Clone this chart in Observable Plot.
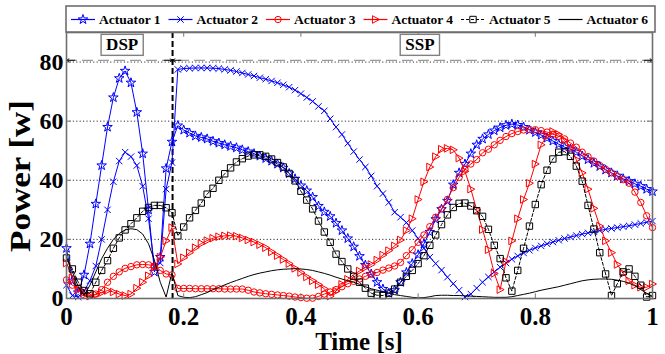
<!DOCTYPE html>
<html><head><meta charset="utf-8">
<script src="https://cdn.jsdelivr.net/npm/d3@7"></script>
<script src="https://cdn.jsdelivr.net/npm/@observablehq/plot@0.6"></script>
<style>
body{margin:0;background:#fff;}
#chart{width:665px;height:354px;}
svg text{font-family:"Liberation Serif","Times New Roman",serif;font-weight:bold;}
</style>
</head><body><div id="chart"></div>
<script>
// ---- data ----
const time = d3.range(101).map(i => +(i / 100).toFixed(2));
const seriesNames = ["Actuator 1","Actuator 2","Actuator 3","Actuator 4","Actuator 5","Actuator 6"];
const act1 = [17,6,2,8,18.5,32,45,58,68,74.5,
 77,73,63,49,30,9,14,44,53,58.5,
 57,56,55,54.5,54,53.2,52.6,52,51.5,51,
 50.3,49.7,49,48.2,47.4,46.5,45.5,44.2,42.3,40.5,
 38.2,36.5,34.3,31.3,29.3,27.8,25.5,23,20.3,17.5,
 14.3,11.3,8.3,5.5,3.2,1.8,2.8,5.5,8.8,11.8,
 14.8,18.5,22.5,26.8,30.2,33,38.5,42.5,45.5,49,
 52,54,55.5,56.8,57.8,58.6,59,58.7,58,57,
 56.2,55.3,54.3,53.3,52.2,51.2,50.5,49.5,48.2,47,
 45.8,44.7,43.5,42.5,41.5,40.5,39.7,38.8,38,37,
 36.2];
const act2 = [4.5,1,0.5,2.5,6,11,20,30,39.5,46.5,
 49.5,48,45,38,27,11,12,37,46,77.5,
 77.8,77.9,78,78,78,77.9,77.8,77.5,77.2,76.8,
 76.3,75.8,75.3,74.7,74.2,73.6,73,72.3,71.5,70.5,
 69.3,68,66.7,65,63.5,60.8,58,55.5,52.5,49.7,
 47,44.5,41.5,38,35.5,32.5,29.2,27.5,25.7,23,
 20.3,17,14,11.8,9.6,7.2,5,2.8,0.5,1.5,
 3.5,5.5,7.3,9,10.6,12,13.3,14.4,15.4,16.3,
 17.1,17.8,18.5,19.1,19.7,20.3,20.8,21.3,21.8,22.2,
 22.6,23,23.4,23.7,24,24.3,24.6,25,25.4,25.8,
 26.2];
const act3 = [6.3,4.5,3.5,2,1,1.5,3,5.5,7.5,9,
 10.2,10.8,11.4,11.5,11.4,11,9.5,8.3,8,3.4,
 3.4,3.4,3.3,3.3,3.3,3.3,3.3,3.2,3.2,3.2,
 3.2,2.8,2.2,1.9,1.6,1.4,1.2,1,0.8,0.5,
 0.3,0.1,0.1,0.7,1.5,2.2,3,4,5,5.8,
 6.6,7.5,8.2,8.8,9.6,10.3,11,12.2,14.5,16.5,
 19,21.5,24.3,27.5,30.3,33.5,37.5,41,43.8,45.5,
 47,49.3,50.5,52,53.5,54.8,55.8,56.5,57,57.2,
 57.1,56.8,56.3,55.6,54.9,54,52.6,51.2,49.5,48,
 46.5,45,43.7,42.5,41.3,40.2,39,36,32.5,28,
 24];
const act4 = [12,7,3,1.2,0.8,1.3,2,2.7,2.2,1.5,
 1,1.5,3.5,5.5,7.7,10.5,14,19.5,24,11.7,
 13.8,15.5,17.2,18.6,19.6,20.4,20.9,21.2,21.3,21.1,
 20.5,19.8,19.1,18.2,17.2,15.8,14.5,13.2,11.8,10.2,
 8.8,7.3,6,4.7,3.3,0.8,2.5,4.8,6.5,8,
 9.3,10.5,11.5,13,14.7,16.2,17.8,19.8,23,27,
 33.5,39.5,44.5,48,50.5,50.8,50.3,47.5,43,37,
 30,23.3,16.5,8.5,3,12.5,19.5,27,33.5,39,
 45.5,52,55,56.5,55.5,53.5,51,47,42.5,37,
 30.5,24.5,19.5,15.5,11.5,8.5,6,4.5,3.8,3.8,
 4.9];
const act5 = [13.7,10,5.5,2.7,1.6,5.5,9.5,12.8,17,20.5,
 23.2,25.3,27.3,29.5,30.8,31.5,31.5,30.7,29,21.2,
 24.2,27.3,29.8,32.3,35.3,37.3,40,42.2,44.2,46.2,
 47.3,48.2,48.6,48.6,48.1,47.2,46,44.5,42.3,39.8,
 36.3,33.3,30.3,26.2,22.5,19,15,12.5,10,7.5,
 5.5,3.5,1.8,1.1,1,1.8,3.2,5.5,7.5,9.5,
 11.8,14.5,18,21.5,25,28.3,30.8,32.2,32.3,31.3,
 29.7,27.8,23.4,18,13.5,7,2.5,9.5,17,24.5,
 31.8,38.5,43.4,47.2,49.5,49.7,48.1,44.8,39.7,31.5,
 23.5,15.5,8.3,1,5,9,10,7.5,4.5,0.5,
 1];
const act6 = [14,9,4,1,4.5,9,13.5,17,20,22,
 23.2,23.6,23.3,21.8,18.5,13,5.5,0.5,8.8,1,
 0.4,0.3,0.6,1.3,2,3,3.8,4.6,5.4,6.1,
 6.8,7.5,8.1,8.6,9,9.4,9.7,9.9,10,10.1,
 10,9.8,9.5,9,8.5,7.9,7.2,6.6,6,5.5,
 4.8,4,3.3,2.8,2.3,1.8,1.3,1,0.7,0.4,
 0.2,0.3,0.6,1,1.1,1.1,1,1,0.9,0.8,
 0.7,0.6,0.5,0.4,0.4,0.4,0.6,1,1.4,1.8,
 2.3,2.8,3.2,3.6,4,4.5,5,5.5,6,6.3,
 6.5,6.6,6.6,6.5,6.2,5.8,5.2,4.3,3,1.8,
 0.5];
const xTicks = [0, 0.2, 0.4, 0.6, 0.8, 1];
const yTicks = [0, 20, 40, 60, 80];
const yGrid = [20, 40, 60, 80];
const phaseNames = ["DSP", "SSP"];
const phaseLabelX = [0.095, 0.603];
const phaseLabelY = 85.8;
const phaseBoundary = 0.181;
const phaseArrowY = 80.6;
const xLabel = "Time [s]";
const yLabel = "Power [w]";

// ---- styling ----
const seriesValues = [act1, act2, act3, act4, act5, act6];
const colors = ["#0000ff", "#0000ff", "#ff0000", "#ff0000", "#000000", "#000000"];
const triangleRight = {
  draw(ctx, size) {
    const r = Math.sqrt(size / Math.PI);
    ctx.moveTo(r * 1.1, 0);
    ctx.lineTo(-r * 0.85, -r * 1.05);
    ctx.lineTo(-r * 0.85, r * 1.05);
    ctx.closePath();
  }
};
const symbols = [d3.symbolStar, d3.symbolTimes, d3.symbolCircle, triangleRight, d3.symbolSquare, null];
const radii = [3.0, 3.0, 3.2, 3.6, 3.6, 0];
const dashes = [null, null, null, null, "3,2", null];

const rows = seriesValues.map(vals => vals.map((v, i) => ({t: time[i], v})));

const marks = [
  Plot.ruleY(yGrid, {stroke: "#000", strokeWidth: 0.8, strokeDasharray: "1.2,2.2"}),
  Plot.ruleY([phaseArrowY], {x1: 0, x2: 1, stroke: "#9a9a9a", strokeWidth: 1.3, strokeDasharray: "11,5"}),
  Plot.arrow([[0.014, 0], [phaseBoundary - 0.014, phaseBoundary], [phaseBoundary + 0.014, phaseBoundary], [0.986, 1]],
    {x1: d => d[0], x2: d => d[1], y1: () => phaseArrowY, y2: () => phaseArrowY, stroke: "#111", strokeWidth: 1, headLength: 7}),
  Plot.ruleX([phaseBoundary], {stroke: "#000", strokeWidth: 2, strokeDasharray: "6,3"})
];
rows.forEach((r, k) => {
  marks.push(Plot.line(r, {x: "t", y: "v", stroke: colors[k], strokeWidth: 1, strokeDasharray: dashes[k]}));
  if (symbols[k]) marks.push(Plot.dot(r, {x: "t", y: "v", symbol: symbols[k], r: radii[k], stroke: colors[k], fill: "none", strokeWidth: 1}));
});
marks.push(
  Plot.ruleX(xTicks, {y1: 0, y2: 1.6, stroke: "#777"}),
  Plot.ruleX(xTicks, {y1: 88.4, y2: 90, stroke: "#777"}),
  Plot.ruleY(yTicks, {x1: 0, x2: 0.008, stroke: "#777"}),
  Plot.ruleY(yTicks, {x1: 0.992, x2: 1, stroke: "#777"}),
  Plot.frame({stroke: "#6e6e6e", strokeWidth: 1.6}),
  Plot.text(phaseNames, {x: (d, i) => phaseLabelX[i], y: () => phaseLabelY, text: d => d, fontSize: 17, fill: "#000"}),
  Plot.axisX(xTicks, {tickSize: 0, tickPadding: 9, tickFormat: d => String(d), fontSize: 25, label: null}),
  Plot.axisY(yTicks, {tickSize: 0, tickPadding: 3, fontSize: 24, label: null})
);

const plot = Plot.plot({
  width: 665, height: 354,
  marginLeft: 66, marginRight: 13, marginTop: 32, marginBottom: 56,
  x: {domain: [0, 1]},
  y: {domain: [0, 90]},
  style: {background: "#fff", color: "#000", fontFamily: "Liberation Serif", fontWeight: "bold"},
  marks
});
document.getElementById("chart").appendChild(plot);

const svg = d3.select(plot);

// boxes behind the phase labels
svg.selectAll("text").filter(function () { return phaseNames.includes(this.textContent); }).each(function () {
  const b = this.getBBox();
  const m = this.getCTM();
  const x = m.a * b.x + m.c * b.y + m.e, y = m.b * b.x + m.d * b.y + m.f;
  let top = this;
  while (top.parentNode !== plot) top = top.parentNode;
  const rect = document.createElementNS("http://www.w3.org/2000/svg", "rect");
  d3.select(rect).attr("x", x - 5).attr("y", y - 1).attr("width", b.width + 10).attr("height", b.height + 2)
    .attr("fill", "#fff").attr("stroke", "#808080").attr("stroke-width", 1.4);
  plot.insertBefore(rect, top);
});

// axis titles
svg.append("text").attr("transform", "translate(19,176) rotate(-90)")
  .attr("text-anchor", "middle").attr("dy", "0.35em").attr("font-size", 30)
  .attr("textLength", 152).attr("lengthAdjust", "spacingAndGlyphs").attr("fill", "#000").text(yLabel);
svg.append("text").attr("x", 359).attr("y", 341)
  .attr("text-anchor", "middle").attr("dy", "0.35em").attr("font-size", 25).attr("fill", "#000").text(xLabel);

// legend
const lg = svg.append("g");
lg.append("rect").attr("x", 66).attr("y", 6).attr("width", 589).attr("height", 26)
  .attr("fill", "#fff").attr("stroke", "#6e6e6e").attr("stroke-width", 1.6);
seriesNames.forEach((name, k) => {
  const x0 = 71 + k * 97.5, yc = 19.5;
  lg.append("line").attr("x1", x0).attr("x2", x0 + 24).attr("y1", yc).attr("y2", yc)
    .attr("stroke", colors[k]).attr("stroke-width", 1.2).attr("stroke-dasharray", dashes[k]);
  if (symbols[k]) lg.append("path").attr("d", d3.symbol(symbols[k], Math.PI * radii[k] * radii[k])())
    .attr("transform", `translate(${x0 + 12},${yc})`).attr("fill", "none").attr("stroke", colors[k]);
  lg.append("text").attr("x", x0 + 28).attr("y", yc).attr("dy", "0.35em").attr("text-anchor", "start")
    .attr("font-size", 13.5).attr("fill", "#000").text(name);
});
</script>
</body></html>
